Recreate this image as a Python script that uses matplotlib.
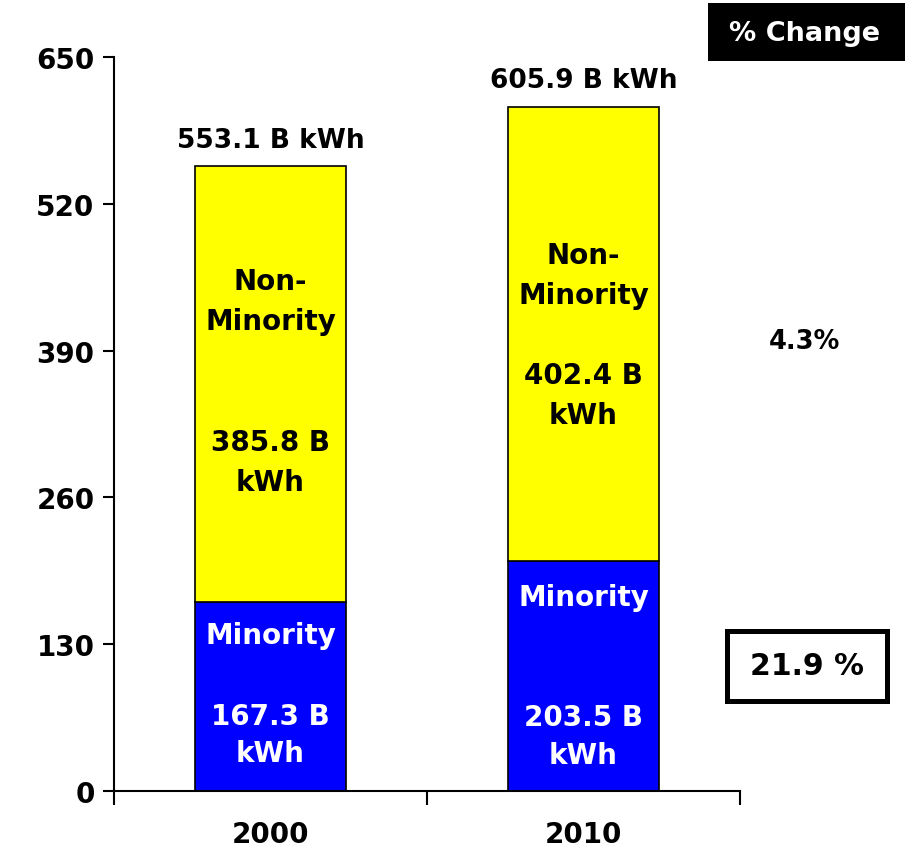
import matplotlib
matplotlib.use("Agg")
import matplotlib.pyplot as plt
from matplotlib.patches import Rectangle

# electricity use, billions of kWh
years = ["2000", "2010"]
minority = [167.3, 203.5]
non_minority = [385.8, 402.4]
totals = [553.1, 605.9]
pct_change_non_minority = "4.3%"
pct_change_minority = "21.9 %"
yticks = [0, 130, 260, 390, 520, 650]

plt.rcParams["font.family"] = "DejaVu Sans"
plt.rcParams["font.weight"] = "bold"

W, H = 905, 853
fig = plt.figure(figsize=(W / 100, H / 100), dpi=100)
ax = fig.add_axes([114 / W, 1 - 792 / H, (740 - 114) / W, (792 - 58) / H])

x = list(range(len(years)))
ax.bar(x, minority, width=0.48, color="#0000FF", edgecolor="black", linewidth=1.2, zorder=2)
ax.bar(x, non_minority, width=0.48, bottom=minority, color="#FFFF00",
       edgecolor="black", linewidth=1.2, zorder=2)

ax.set_xlim(-0.5, 1.5)
ax.set_ylim(0, 650)
ax.set_yticks(yticks)
ax.set_yticklabels([str(t) for t in yticks], fontsize=20, fontweight="bold")
ax.tick_params(axis="y", length=8, width=1.5, pad=6)

# category boundaries get the tick marks, labels sit under the bars
ax.set_xticks([-0.5, 0.5, 1.5])
ax.set_xticklabels([])
ax.tick_params(axis="x", which="major", length=10, width=1.5)
ax.set_xticks(x, minor=True)
ax.set_xticklabels(years, minor=True, fontsize=20, fontweight="bold")
ax.tick_params(axis="x", which="minor", length=0, pad=21)

for s in ["top", "right"]:
    ax.spines[s].set_visible(False)
for s in ["left", "bottom"]:
    ax.spines[s].set_linewidth(1.5)

# totals above bars
for xi, t in zip(x, totals):
    ax.annotate(f"{t} B kWh", (xi, t), xytext=(0, 19), textcoords="offset points",
                ha="center", va="center", fontsize=19, fontweight="bold")

# labels inside the segments
nm_label_y = [434, 457]
nm_value_y = [291, 351]
m_label_y = [138, 172]
m_value_y = [50, 49]
for i, xi in enumerate(x):
    ax.text(xi, nm_label_y[i], "Non-\nMinority", ha="center", va="center",
            fontsize=20, fontweight="bold", color="black", linespacing=1.55)
    ax.text(xi, nm_value_y[i], f"{non_minority[i]} B\nkWh", ha="center", va="center",
            fontsize=20, fontweight="bold", color="black", linespacing=1.55)
    ax.text(xi, m_label_y[i], "Minority", ha="center", va="center",
            fontsize=20, fontweight="bold", color="white")
    ax.text(xi, m_value_y[i], f"{minority[i]} B\nkWh", ha="center", va="center",
            fontsize=20, fontweight="bold", color="white", linespacing=1.45)

# % change panel on the right
fig.patches.append(Rectangle((708 / W, 1 - 62 / H), (905 - 708) / W, 58 / H,
                             transform=fig.transFigure, facecolor="black",
                             edgecolor="none", figure=fig))
fig.text(805 / W, 1 - 34 / H, "% Change", ha="center", va="center",
         fontsize=19.5, fontweight="bold", color="white")
fig.text(805 / W, 1 - 342 / H, pct_change_non_minority, ha="center", va="center",
         fontsize=18.5, fontweight="bold")
fig.patches.append(Rectangle((727 / W, 1 - 702 / H), (887 - 727) / W, (702 - 632) / H,
                             transform=fig.transFigure, facecolor="white",
                             edgecolor="black", linewidth=3.6, figure=fig))
fig.text(807 / W, 1 - 667 / H, pct_change_minority, ha="center", va="center",
         fontsize=21.5, fontweight="bold")

fig.savefig("out.png", dpi=100)
